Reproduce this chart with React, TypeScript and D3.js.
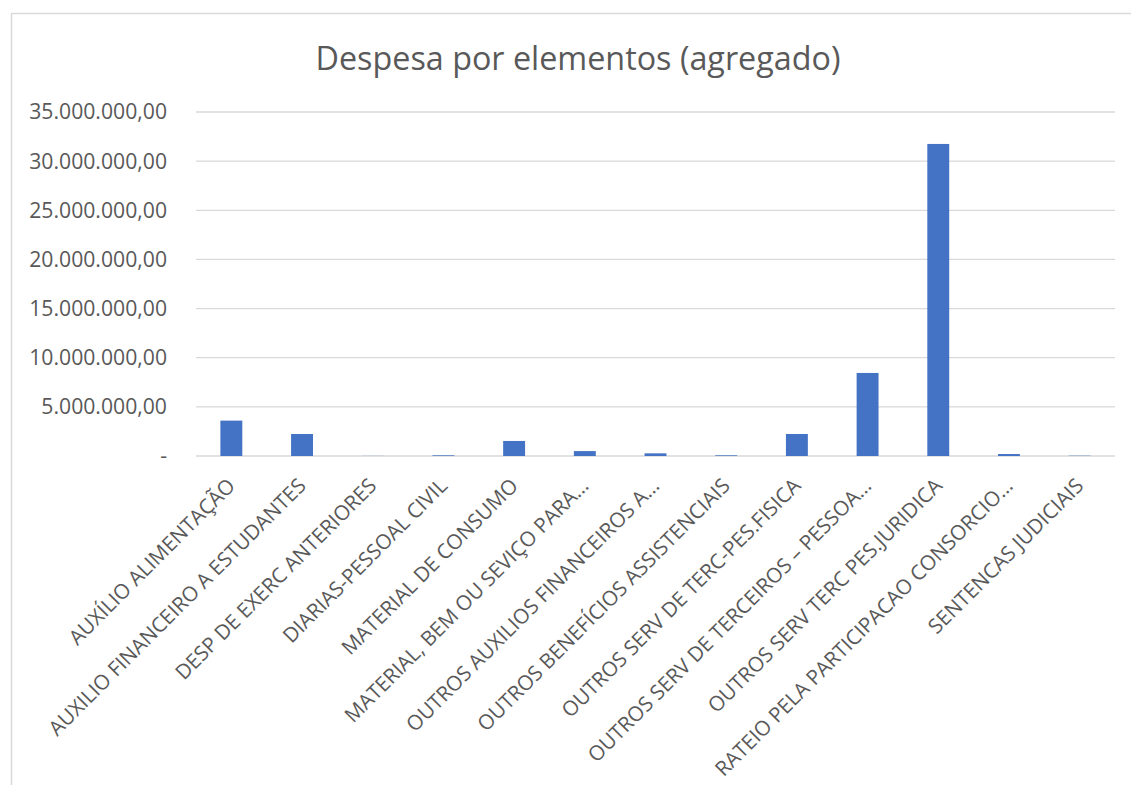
import React, { useEffect, useRef } from "react";
import * as d3 from "d3";

const categories = [
  "AUXÍLIO ALIMENTAÇÃO",
  "AUXILIO FINANCEIRO A ESTUDANTES",
  "DESP DE EXERC ANTERIORES",
  "DIARIAS-PESSOAL CIVIL",
  "MATERIAL DE CONSUMO",
  "MATERIAL, BEM OU SEVIÇO PARA…",
  "OUTROS AUXILIOS FINANCEIROS A…",
  "OUTROS BENEFÍCIOS ASSISTENCIAIS",
  "OUTROS SERV DE TERC-PES.FISICA",
  "OUTROS SERV DE TERCEIROS – PESSOA…",
  "OUTROS SERV TERC PES.JURIDICA",
  "RATEIO PELA PARTICIPACAO CONSORCIO…",
  "SENTENCAS JUDICIAIS",
];

const values = [
  3600000, 2240000, 10000, 70000, 1530000, 500000, 270000, 70000, 2240000,
  8450000, 31750000, 200000, 30000,
];

const yTicks = [0, 5000000, 10000000, 15000000, 20000000, 25000000, 30000000, 35000000];

const title = "Despesa por elementos (agregado)";

const W = 1131;
const H = 785;
const plot = { left: 196, right: 1115, top: 112, bottom: 456 };
const font = "'Open Sans', 'Noto Sans', sans-serif";

const fmt = (v: number) =>
  v === 0
    ? "-"
    : d3.format(",.2f")(v).replace(/,/g, "#").replace(/\./g, ",").replace(/#/g, ".");

export default function App() {
  const svgRef = useRef<SVGSVGElement>(null);

  useEffect(() => {
    if (!svgRef.current) return;
    const svg = d3.select(svgRef.current);
    svg.selectAll("*").remove();

    // chart frame
    svg.append("rect")
      .attr("x", 11.5)
      .attr("y", 13.5)
      .attr("width", W)
      .attr("height", H)
      .attr("fill", "#fff")
      .attr("stroke", "#d9d9d9")
      .attr("stroke-width", 1.5);

    svg.append("text")
      .attr("x", 578)
      .attr("y", 70)
      .attr("text-anchor", "middle")
      .attr("font-family", font)
      .attr("font-size", 32.3)
      .attr("fill", "#595959")
      .text(title);

    const x = d3.scaleBand()
      .domain(categories)
      .range([plot.left, plot.right])
      .paddingInner(0.69)
      .paddingOuter(0.345);

    const y = d3.scaleLinear()
      .domain([0, 35000000])
      .range([plot.bottom, plot.top]);

    // gridlines
    svg.append("g")
      .selectAll("line")
      .data(yTicks)
      .join("line")
      .attr("x1", plot.left)
      .attr("x2", plot.right)
      .attr("y1", d => y(d))
      .attr("y2", d => y(d))
      .attr("stroke", "#d9d9d9")
      .attr("stroke-width", 1.3);

    // y tick labels
    svg.append("g")
      .selectAll("text")
      .data(yTicks)
      .join("text")
      .attr("x", 167)
      .attr("y", d => y(d))
      .attr("dy", "0.35em")
      .attr("text-anchor", "end")
      .attr("font-family", font)
      .attr("font-size", 21.2)
      .attr("fill", "#595959")
      .text(d => fmt(d));

    // bars
    svg.append("g")
      .selectAll("rect")
      .data(values)
      .join("rect")
      .attr("x", (d, i) => x(categories[i]) || 0)
      .attr("y", d => y(d))
      .attr("width", x.bandwidth())
      .attr("height", d => plot.bottom - y(d))
      .attr("fill", "#4472c4");

    // x labels
    svg.append("g")
      .selectAll("text")
      .data(categories)
      .join("text")
      .attr("transform", d => {
        const cx = (x(d) || 0) + x.bandwidth() / 2;
        return `translate(${cx}, ${plot.bottom + 26}) rotate(-45)`;
      })
      .attr("dy", "0.35em")
      .attr("text-anchor", "end")
      .attr("font-family", font)
      .attr("font-size", 20.6)
      .attr("fill", "#595959")
      .text(d => d);
  }, []);

  return (
    <svg
      ref={svgRef}
      width={W}
      height={H}
      style={{ position: "absolute", left: 0, top: 0, display: "block" }}
    ></svg>
  );
}
